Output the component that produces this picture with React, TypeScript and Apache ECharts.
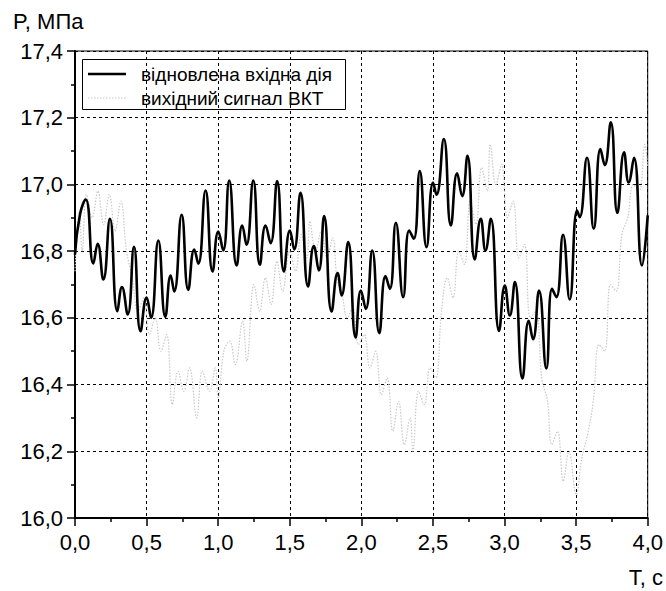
import React, { useEffect, useRef } from "react";
import * as echarts from "echarts";

// restored input action (black solid)
const tInput = [0, 0.035, 0.075, 0.128, 0.158, 0.198, 0.244, 0.296, 0.328, 0.368, 0.412, 0.458, 0.5, 0.531, 0.582, 0.631, 0.668, 0.693, 0.745, 0.791, 0.833, 0.861, 0.912, 0.961, 1.001, 1.035, 1.077, 1.129, 1.168, 1.198, 1.245, 1.291, 1.331, 1.366, 1.412, 1.459, 1.501, 1.531, 1.575, 1.628, 1.668, 1.703, 1.74, 1.792, 1.834, 1.862, 1.908, 1.96, 1.997, 2.031, 2.076, 2.125, 2.169, 2.199, 2.241, 2.292, 2.334, 2.366, 2.408, 2.455, 2.501, 2.525, 2.576, 2.625, 2.669, 2.704, 2.741, 2.792, 2.834, 2.867, 2.904, 2.962, 3.002, 3.037, 3.072, 3.125, 3.169, 3.199, 3.241, 3.292, 3.332, 3.362, 3.409, 3.455, 3.507, 3.525, 3.576, 3.623, 3.67, 3.7, 3.742, 3.788, 3.835, 3.867, 3.904, 3.96, 4.0];
const pInput = [16.79, 16.91, 16.955, 16.763, 16.822, 16.715, 16.897, 16.62, 16.692, 16.61, 16.813, 16.56, 16.661, 16.6, 16.832, 16.603, 16.727, 16.679, 16.909, 16.684, 16.805, 16.762, 16.982, 16.739, 16.859, 16.802, 17.012, 16.757, 16.877, 16.819, 17.012, 16.759, 16.877, 16.824, 17.01, 16.739, 16.862, 16.805, 16.975, 16.694, 16.815, 16.742, 16.905, 16.619, 16.734, 16.667, 16.827, 16.541, 16.682, 16.627, 16.802, 16.554, 16.725, 16.687, 16.885, 16.662, 16.862, 16.837, 17.04, 16.812, 17.006, 16.969, 17.136, 16.877, 17.033, 16.965, 17.086, 16.775, 16.897, 16.802, 16.897, 16.561, 16.697, 16.607, 16.707, 16.418, 16.591, 16.536, 16.682, 16.448, 16.687, 16.662, 16.849, 16.655, 16.922, 16.902, 17.08, 16.867, 17.106, 17.058, 17.186, 16.915, 17.096, 17.006, 17.08, 16.757, 16.907];

// output signal of the transducer (grey dotted)
const tOutput = [0, 0.03, 0.05, 0.08, 0.12, 0.16, 0.2, 0.24, 0.28, 0.32, 0.36, 0.4, 0.44, 0.48, 0.52, 0.56, 0.6, 0.64, 0.68, 0.72, 0.76, 0.8, 0.85, 0.89, 0.94, 0.98, 1.0, 1.04, 1.08, 1.12, 1.17, 1.2, 1.25, 1.29, 1.33, 1.37, 1.41, 1.45, 1.5, 1.54, 1.58, 1.62, 1.64, 1.68, 1.72, 1.76, 1.8, 1.83, 1.87, 1.9, 1.94, 1.98, 2.02, 2.06, 2.1, 2.14, 2.18, 2.22, 2.26, 2.3, 2.34, 2.36, 2.4, 2.44, 2.48, 2.52, 2.56, 2.6, 2.64, 2.68, 2.72, 2.76, 2.8, 2.84, 2.88, 2.9, 2.94, 2.98, 3.02, 3.06, 3.1, 3.14, 3.18, 3.22, 3.26, 3.3, 3.33, 3.37, 3.41, 3.45, 3.5, 3.54, 3.58, 3.62, 3.66, 3.7, 3.74, 3.78, 3.82, 3.86, 3.9, 3.94, 3.98, 4.0];
const pOutput = [16.74, 16.92, 16.8, 16.97, 16.9, 16.98, 16.88, 16.97, 16.86, 16.95, 16.8, 16.72, 16.62, 16.66, 16.55, 16.6, 16.5, 16.55, 16.34, 16.44, 16.38, 16.45, 16.3, 16.44, 16.38, 16.45, 16.36, 16.5, 16.53, 16.46, 16.59, 16.47, 16.7, 16.62, 16.72, 16.64, 16.77, 16.68, 16.8, 16.74, 16.85, 16.78, 16.89, 16.8, 16.86, 16.78, 16.84, 16.72, 16.66, 16.6, 16.63, 16.52, 16.55, 16.45, 16.5, 16.37, 16.42, 16.26, 16.35, 16.22, 16.3, 16.2, 16.38, 16.34, 16.45, 16.42, 16.62, 16.72, 16.66, 16.8, 16.76, 16.95, 16.88, 17.05, 16.98, 17.12, 17.0, 17.06, 16.9, 16.95, 16.78, 16.82, 16.6, 16.62, 16.42, 16.35, 16.22, 16.26, 16.11, 16.2, 16.07, 16.18, 16.25, 16.35, 16.52, 16.5, 16.7, 16.68, 16.85, 16.9, 17.0, 16.98, 17.12, 17.05];

const seriesNames = ["відновлена вхідна дія", "вихідний сигнал ВКТ"];
const yAxisTitle = "P, МПа";
const xAxisTitle = "T, с";

const FONT = "'Liberation Sans', Arial, sans-serif";
const GREY = "#c8c8c8";

export default function App() {
  const ref = useRef<HTMLDivElement>(null);
  useEffect(() => {
    if (!ref.current) return;
    const chart = echarts.init(ref.current, null, { renderer: "svg" });
    const fmt = (v: number) => v.toFixed(1).replace(".", ",");
    chart.setOption({
      animation: false,
      backgroundColor: "#fff",
      textStyle: { fontFamily: FONT },
      grid: {
        left: 75,
        right: 18,
        top: 51,
        bottom: 73,
        show: true,
        borderColor: "#000",
        borderWidth: 1,
      },
      xAxis: {
        type: "value",
        min: 0,
        max: 4,
        interval: 0.5,
        axisLine: { show: true, lineStyle: { color: "#000", width: 2 } },
        axisTick: { show: true, length: 8, inside: false, lineStyle: { color: "#000", width: 1.5 } },
        minorTick: { show: true, splitNumber: 2, length: 4, lineStyle: { color: "#000", width: 1.5 } },
        axisLabel: { color: "#000", fontSize: 22, margin: 13, formatter: fmt, fontFamily: FONT },
        splitLine: { show: true, lineStyle: { color: "#000", type: [3, 3], width: 1 } },
      },
      yAxis: {
        type: "value",
        min: 16,
        max: 17.4,
        interval: 0.2,
        axisLine: { show: true, lineStyle: { color: "#000", width: 2 } },
        axisTick: { show: true, length: 8, inside: false, lineStyle: { color: "#000", width: 1.5 } },
        minorTick: { show: true, splitNumber: 2, length: 4, lineStyle: { color: "#000", width: 1.5 } },
        axisLabel: { color: "#000", fontSize: 22, margin: 12, formatter: fmt, fontFamily: FONT },
        splitLine: { show: true, lineStyle: { color: "#000", type: [3, 3], width: 1 } },
      },
      graphic: [
        {
          type: "text",
          left: 13,
          top: 10,
          style: { text: yAxisTitle, fontSize: 22, fill: "#000", fontFamily: FONT },
        },
        {
          type: "text",
          right: 3,
          top: 566,
          style: { text: xAxisTitle, fontSize: 22, fill: "#000", fontFamily: FONT },
        },
        {
          type: "group",
          left: 82,
          top: 59,
          z: 100,
          children: [
            {
              type: "rect",
              shape: { x: 0.5, y: 0.5, width: 263, height: 50 },
              style: { fill: "#fff", stroke: "#000", lineWidth: 1 },
            },
            {
              type: "line",
              shape: { x1: 6, y1: 15, x2: 44, y2: 15 },
              style: { stroke: "#000", lineWidth: 2.6 },
            },
            {
              type: "line",
              shape: { x1: 6, y1: 39, x2: 44, y2: 39 },
              style: { stroke: GREY, lineWidth: 1.2, lineDash: [1.5, 1.5] },
            },
            {
              type: "text",
              x: 59,
              y: 15,
              style: { text: seriesNames[0], fontSize: 19, fill: "#000", fontFamily: FONT, verticalAlign: "middle" },
            },
            {
              type: "text",
              x: 59,
              y: 39,
              style: { text: seriesNames[1], fontSize: 19, fill: "#000", fontFamily: FONT, verticalAlign: "middle" },
            },
          ],
        },
      ],
      series: [
        {
          name: seriesNames[1],
          type: "line",
          data: tOutput.map((t, i) => [t, pOutput[i]]),
          showSymbol: false,
          symbol: "none",
          smooth: 0.4,
          lineStyle: { color: GREY, width: 1.2, type: [1.5, 1.5] },
          itemStyle: { color: GREY },
          z: 2,
        },
        {
          name: seriesNames[0],
          type: "line",
          data: tInput.map((t, i) => [t, pInput[i]]),
          showSymbol: false,
          symbol: "none",
          smooth: 0.5,
          lineStyle: { color: "#000", width: 2.6 },
          itemStyle: { color: "#000" },
          z: 3,
        },
      ],
    });
    return () => chart.dispose();
  }, []);
  return (
    <div
      ref={ref}
      style={{ position: "absolute", left: 0, top: 0, width: 666, height: 591 }}
    />
  );
}
